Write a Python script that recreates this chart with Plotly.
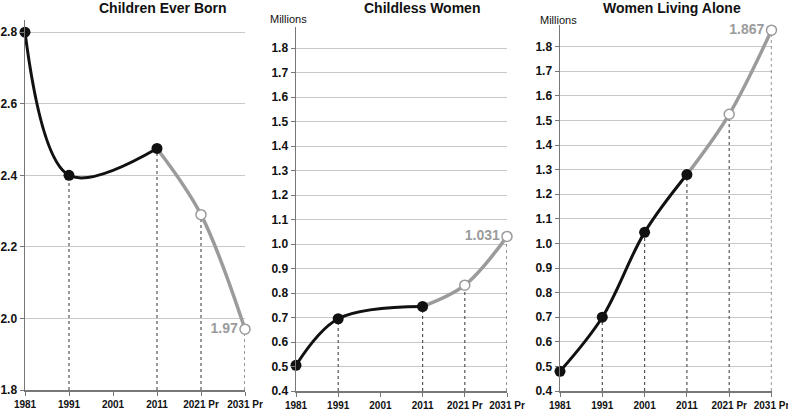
import plotly.graph_objects as go

# ---- data ----
tick_years = [1981, 1991, 2001, 2011, 2021, 2031]
tick_labels = ["1981", "1991", "2001", "2011", "2021 Pr", "2031 Pr"]

ceb_years = [1981, 1991, 2011, 2021, 2031]
ceb_values = [2.80, 2.40, 2.475, 2.29, 1.97]
ceb_hist_n = 3  # points up to 2011 are observed

cw_years = [1981, 1991, 2011, 2021, 2031]
cw_values = [0.505, 0.695, 0.745, 0.832, 1.031]
cw_hist_n = 3

wla_years = [1981, 1991, 2001, 2011, 2021, 2031]
wla_values = [0.48, 0.70, 1.045, 1.28, 1.525, 1.867]
wla_hist_n = 4

titles = ["Children Ever Born", "Childless Women", "Women Living Alone"]
end_labels = ["1.97", "1.031", "1.867"]

FONT = "Liberation Sans, Arial, sans-serif"
BLACK = "#111111"
GREY = "#9b9b9b"

W, H = 788, 414

panels = [
    dict(years=ceb_years, vals=ceb_values, n=ceb_hist_n, yrange=[1.8, 2.834], dtick=0.2,
         xdom=[25 / W, 245 / W], ydom=[24 / H, 394 / H], millions=False, tx=163),
    dict(years=cw_years, vals=cw_values, n=cw_hist_n, yrange=[0.4, 1.886], dtick=0.1,
         xdom=[296 / W, 507 / W], ydom=[23 / H, 387 / H], millions=True, mx=288, tx=422),
    dict(years=wla_years, vals=wla_values, n=wla_hist_n, yrange=[0.4, 1.888], dtick=0.1,
         xdom=[560 / W, 771.5 / W], ydom=[23 / H, 389 / H], millions=True, mx=558, tx=672),
]

fig = go.Figure()
annotations = []
layout = {}

for i, p in enumerate(panels):
    k = "" if i == 0 else str(i + 1)
    xa, ya = "x" + k, "y" + k
    ymin = p["yrange"][0]
    yrs, vals, n = p["years"], p["vals"], p["n"]

    # dotted drop lines from axis to each point (except first year on the axis)
    for x, v in zip(yrs[1:], vals[1:]):
        fig.add_trace(go.Scatter(x=[x, x], y=[ymin, v], mode="lines", xaxis=xa, yaxis=ya,
                                 line=dict(color="#555555", width=1.2, dash="dot"),
                                 hoverinfo="skip", showlegend=False, cliponaxis=False))
    # projection segment (grey)
    fig.add_trace(go.Scatter(x=yrs[n - 1:], y=vals[n - 1:], mode="lines", xaxis=xa, yaxis=ya,
                             line=dict(color=GREY, width=3.5, shape="spline", smoothing=1.0),
                             showlegend=False, cliponaxis=False))
    # observed segment (black)
    fig.add_trace(go.Scatter(x=yrs[:n], y=vals[:n], mode="lines+markers", xaxis=xa, yaxis=ya,
                             line=dict(color=BLACK, width=3, shape="spline", smoothing=1.0),
                             marker=dict(color=BLACK, size=11),
                             showlegend=False, cliponaxis=False))
    # projected markers with end label
    proj_text = [""] * (len(yrs) - n - 1) + [end_labels[i]]
    fig.add_trace(go.Scatter(x=yrs[n:], y=vals[n:], mode="markers+text", xaxis=xa, yaxis=ya,
                             marker=dict(color="white", size=10, line=dict(color=GREY, width=1.5)),
                             text=proj_text, textposition="middle left",
                             textfont=dict(family=FONT, size=14, color=GREY, weight="bold"),
                             showlegend=False, cliponaxis=False))

    layout["xaxis" + k] = dict(
        domain=p["xdom"], range=[1981, 2031], anchor=ya, automargin=False,
        ticklabeloverflow="allow",
        tickvals=tick_years, ticktext=tick_labels, tickangle=0, ticks="outside", ticklen=4,
        tickcolor="#777777", showline=True, linecolor="#777777", linewidth=1.5,
        showgrid=False, zeroline=False,
        tickfont=dict(family=FONT, size=10, color="#111111", weight="bold"),
    )
    layout["yaxis" + k] = dict(
        domain=p["ydom"], range=p["yrange"], anchor=xa, automargin=False,
        ticklabeloverflow="allow",
        dtick=p["dtick"], tick0=ymin,
        tickformat=".1f", ticks="outside", ticklen=4, tickcolor="#777777",
        showline=True, linecolor="#777777", linewidth=1.5,
        showgrid=True, gridcolor="#c8c8c8", gridwidth=1, zeroline=False,
        tickfont=dict(family=FONT, size=12, color="#111111", weight="bold"),
    )
    annotations.append(dict(text=titles[i], x=p["tx"] / W, y=1 - 8.5 / H, xref="paper", yref="paper",
                            xanchor="center", yanchor="middle", showarrow=False,
                            font=dict(family=FONT, size=14, color="#111111", weight="bold")))
    if p["millions"]:
        annotations.append(dict(text="Millions", x=p["mx"] / W, y=1 - (18 + i) / H,
                                xref="paper", yref="paper", xanchor="center", yanchor="middle",
                                showarrow=False,
                                font=dict(family=FONT, size=11, color="#111111")))

fig.update_layout(
    width=W, height=H, margin=dict(l=0, r=0, t=0, b=0, autoexpand=False),
    paper_bgcolor="white", plot_bgcolor="white", hovermode=False,
    annotations=annotations, **layout,
)

fig.write_html(
    "out.html",
    config={"displayModeBar": False, "staticPlot": True},
    post_script="document.body.style.margin='0';document.body.style.overflow='hidden';",
)
